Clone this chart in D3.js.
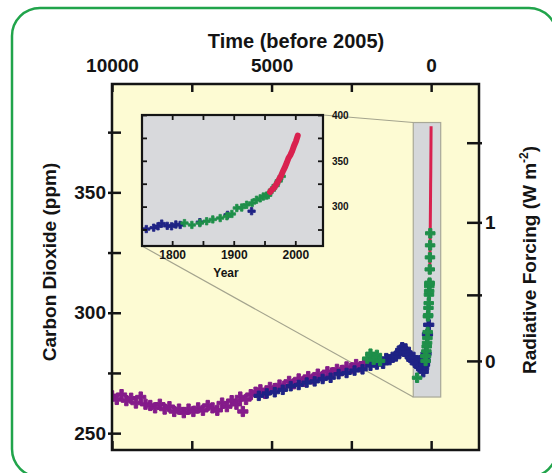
<!DOCTYPE html>
<html><head><meta charset="utf-8">
<script src="https://cdn.jsdelivr.net/npm/d3@7"></script>
<style>
html,body{margin:0;padding:0;background:#fff;}
svg{display:block;}
</style></head><body>
<svg id="chart" width="552" height="473"></svg>
<script>
// ---------------- DATA ----------------
// Antarctic ice core (purple), years before 2005
const domeAge = [10000,9850,9700,9550,9400,9250,9100,8950,8800,8650,8500,8350,8200,8050,7900,7750,7600,7450,7300,7150,7000,6850,6700,6550,6400,6250,6100,5980,5900,5800,5650,5500,5350,5200,5050,4900,4750,4600,4450,4300,4150,4000,3850,3700,3550,3400,3250,3100,2950,2800,2650,2500,2350,2200,2100];
const domeCO2 = [265.5,264,266,263.5,264.5,262.5,265,262,261.5,260.5,262,260,261,259,260,258.5,260,259,260.5,259.5,261.5,260.5,259.5,262.5,261,263.5,262,265,259,264,266,267,268,266.5,269,268.5,270,269.5,271.5,270.5,272.5,271.5,273.5,272.5,274.5,273.5,275.5,275,276.5,276,277.5,277,278.5,277.5,279];
// Holocene ice core (blue), years before 2005
const taylorAge = [5400,5150,4900,4650,4400,4150,3900,3650,3400,3150,2900,2650,2400,2150,1900,1700];
const taylorCO2 = [265.5,266.5,267,268,269.5,270,271,271.5,272.5,273,274.5,275,276,276.5,278,278.5];
// Law Dome style record (blue), calendar years
const lawYear = [400,500,600,700,800,900,1000,1050,1100,1150,1200,1250,1300,1350,1400,1450,1500,1550,1600,1650,1700,1758,1770,1777,1783,1792,1799,1806,1813,1845,1890,1929];
const lawCO2  = [280,279,281,280.5,281.5,282,283,284.5,285.5,284,285,283.5,282.5,281.5,280.5,281.5,280,279,278,277.5,278,275.5,277,278.5,281.5,279,278.5,280.5,280,283,291,295];
// Siple / firn record (green), calendar years
const sipleYear = [5,105,205,305,405,1565,1820,1832,1845,1856,1866,1878,1889,1897,1905,1913,1921,1930,1937,1943,1948,1953,1956,1962,1968,1973,1978];
const sipleCO2  = [281,283,280.5,282.5,280,273,282,280,282,284,286,287.5,289.5,292,298.5,299,302,304,307.5,309,311,312,312.5,318,323,328,333];
// Atmospheric measurements (red), calendar years
const maunaYear = [1959,1962,1965,1968,1971,1974,1977,1980,1983,1986,1989,1992,1995,1998,2001,2004];
const maunaCO2  = [316,318.4,320,323,326.3,330.2,333.8,338.7,342.8,347.6,353.1,356.3,360.8,366.5,371.1,377.5];

// axes / ticks
const timeDomain = [10000, -1500];
const timeTicks = [10000, 7500, 5000, 2500, 0];
const timeLabels = [10000, 5000, 0];
const co2Domain = [243, 395];
const co2Ticks = [250, 275, 300, 325, 350, 375];
const co2Labels = [250, 300, 350];
const forcingTicks = [0, 0.5, 1, 1.5];
const forcingLabels = [0, 1];
const forcingRef = 280;
const zoomAge = [560, -300];
const zoomCO2 = [265, 379];
const insetYearDomain = [1751, 2045];
const insetYearTicks = [1800, 1850, 1900, 1950, 2000];
const insetYearLabels = [1800, 1900, 2000];
const insetCO2Domain = [257, 400];
const insetCO2Ticks = [275, 300, 325, 350, 375, 400];
const insetCO2Labels = [300, 350, 400];

// ---------------- DRAW ----------------
const FONT = '"Liberation Sans", Arial, Helvetica, sans-serif';
const INK = "#141414";
const C_PURPLE = "#841b8a", C_BLUE = "#1f2385", C_GREEN = "#1f8f4a", C_RED = "#d9214f";
const svg = d3.select("#chart").attr("font-family", FONT).attr("font-weight", "bold");

svg.append("rect").attr("x", 12).attr("y", 8).attr("width", 545).attr("height", 469)
  .attr("rx", 28).attr("fill", "#fff").attr("stroke", "#21a44b").attr("stroke-width", 2.5);

const M = {l: 112, r: 479, t: 84, b: 450};
const x = d3.scaleLinear().domain(timeDomain).range([M.l, M.r]);
const y = d3.scaleLinear().domain(co2Domain).range([M.b, M.t]);
const toCO2 = f => forcingRef * Math.exp(f / 5.35);

const defs = svg.append("defs");
defs.append("clipPath").attr("id", "mclip").append("rect")
  .attr("x", M.l).attr("y", M.t).attr("width", M.r - M.l).attr("height", M.b - M.t);

svg.append("rect").attr("x", M.l).attr("y", M.t).attr("width", M.r - M.l).attr("height", M.b - M.t)
  .attr("fill", "#fdfbd3");

// zoom box
const bx0 = x(zoomAge[0]), bx1 = x(zoomAge[1]), by0 = y(zoomCO2[1]), by1 = y(zoomCO2[0]);
svg.append("rect").attr("x", bx0).attr("y", by0).attr("width", bx1 - bx0).attr("height", by1 - by0)
  .attr("fill", "#d5d7da").attr("stroke", "#a8a898").attr("stroke-width", 1.2);

// inset geometry
const I = {l: 142, r: 323, t: 115, b: 246};
const xi = d3.scaleLinear().domain(insetYearDomain).range([I.l, I.r]);
const yi = d3.scaleLinear().domain(insetCO2Domain).range([I.b, I.t]);

// connectors
svg.append("line").attr("x1", I.r).attr("y1", I.t).attr("x2", bx0).attr("y2", by0)
  .attr("stroke", "#a4a48e").attr("stroke-width", 1.2);
svg.append("line").attr("x1", I.l).attr("y1", I.b).attr("x2", bx0).attr("y2", by1)
  .attr("stroke", "#a4a48e").attr("stroke-width", 1.2);

const cross = s => d3.symbol().type(d3.symbolCross).size(s)();

const mg = svg.append("g").attr("clip-path", "url(#mclip)");
function marks(g, pts, sx, sy, color, size, sw) {
  g.append("g").selectAll("path").data(pts).join("path")
    .attr("transform", d => `translate(${sx(d[0])},${sy(d[1])})`)
    .attr("d", cross(size)).attr("fill", color)
    .attr("stroke", color).attr("stroke-width", sw).attr("stroke-linejoin", "round");
}
marks(mg, d3.zip(domeAge, domeCO2), x, y, C_PURPLE, 58, 1);
marks(mg, d3.zip(taylorAge, taylorCO2), x, y, C_BLUE, 50, 1);
marks(mg, d3.zip(lawYear.map(v => 2005 - v), lawCO2), x, y, C_BLUE, 58, 1);
mg.append("path").datum(d3.zip(maunaYear, maunaCO2))
  .attr("d", d3.line().x(d => x(2005 - d[0])).y(d => y(d[1])))
  .attr("fill", "none").attr("stroke", C_RED).attr("stroke-width", 3);
marks(mg, d3.zip(sipleYear.map(v => 2005 - v), sipleCO2), x, y, C_GREEN, 50, 1);

function styleAxis(g, size) {
  g.attr("font-family", FONT).attr("font-weight", "bold").attr("font-size", size);
  g.select(".domain").remove();
  g.selectAll("text").attr("fill", INK);
  return g;
}

// main axes
const gTop = svg.append("g").attr("transform", `translate(0,${M.t})`)
  .call(d3.axisTop(x).tickValues(timeTicks).tickSizeInner(-8).tickSizeOuter(0).tickPadding(12)
    .tickFormat(d => timeLabels.includes(d) ? String(d) : ""));
styleAxis(gTop, 19).selectAll("line").attr("stroke", INK).attr("stroke-width", 2.5);

const gBot = svg.append("g").attr("transform", `translate(0,${M.b})`)
  .call(d3.axisBottom(x).tickValues(timeTicks).tickSizeInner(-9).tickSizeOuter(0).tickFormat(() => ""));
styleAxis(gBot, 19).selectAll("line").attr("stroke", INK).attr("stroke-width", 2.5);

const gLeft = svg.append("g").attr("transform", `translate(${M.l},0)`)
  .call(d3.axisLeft(y).tickValues(co2Ticks).tickSizeInner(-9).tickSizeOuter(0).tickPadding(6)
    .tickFormat(d => co2Labels.includes(d) ? String(d) : ""));
styleAxis(gLeft, 19).selectAll("line").attr("x1", -4).attr("stroke", INK).attr("stroke-width", 2.5);

const forcingCO2 = forcingTicks.map(toCO2);
const gRight = svg.append("g").attr("transform", `translate(${M.r},0)`)
  .call(d3.axisRight(y).tickValues(forcingCO2).tickSizeInner(-12).tickSizeOuter(0).tickPadding(6)
    .tickFormat((c, i) => forcingLabels.includes(forcingTicks[i]) ? String(forcingTicks[i]) : ""));
styleAxis(gRight, 19).selectAll("line").attr("x1", 3).attr("stroke", INK).attr("stroke-width", 2.5);

svg.append("rect").attr("x", M.l).attr("y", M.t).attr("width", M.r - M.l).attr("height", M.b - M.t)
  .attr("fill", "none").attr("stroke", INK).attr("stroke-width", 2.5);

// titles
svg.append("text").attr("x", 296).attr("y", 48).attr("text-anchor", "middle")
  .attr("font-size", 20).attr("fill", INK).text("Time (before 2005)");
svg.append("text").attr("transform", "translate(56,262) rotate(-90)").attr("text-anchor", "middle")
  .attr("font-size", 19).attr("fill", INK).text("Carbon Dioxide (ppm)");
const rt = svg.append("text").attr("transform", "translate(536,260) rotate(-90)").attr("text-anchor", "middle")
  .attr("font-size", 19).attr("fill", INK);
rt.append("tspan").text("Radiative Forcing (W m");
rt.append("tspan").attr("font-size", 12).attr("dy", -8).text("-2");
rt.append("tspan").attr("dy", 8).text(")");

// ---------------- INSET ----------------
defs.append("clipPath").attr("id", "iclip").append("rect")
  .attr("x", I.l).attr("y", I.t).attr("width", I.r - I.l).attr("height", I.b - I.t);
svg.append("rect").attr("x", I.l).attr("y", I.t).attr("width", I.r - I.l).attr("height", I.b - I.t)
  .attr("fill", "#d8d9dc");
const ig = svg.append("g").attr("clip-path", "url(#iclip)");
const inDom = v => v >= insetYearDomain[0] && v <= insetYearDomain[1];
marks(ig, d3.zip(lawYear, lawCO2).filter(d => inDom(d[0])), xi, yi, C_BLUE, 30, 0.8);
marks(ig, d3.zip(sipleYear, sipleCO2).filter(d => inDom(d[0])), xi, yi, C_GREEN, 30, 0.8);
ig.append("path").datum(d3.zip(maunaYear, maunaCO2))
  .attr("d", d3.line().x(d => xi(d[0])).y(d => yi(d[1])))
  .attr("fill", "none").attr("stroke", C_RED).attr("stroke-width", 6).attr("stroke-linecap", "round");

const iTop = svg.append("g").attr("transform", `translate(0,${I.t})`)
  .call(d3.axisTop(xi).tickValues(insetYearTicks).tickSizeInner(-5).tickSizeOuter(0).tickFormat(() => ""));
styleAxis(iTop, 11).selectAll("line").attr("stroke", INK).attr("stroke-width", 1.8);
const iBot = svg.append("g").attr("transform", `translate(0,${I.b})`)
  .call(d3.axisBottom(xi).tickValues(insetYearTicks).tickSizeInner(-5).tickSizeOuter(0).tickPadding(4)
    .tickFormat(d => insetYearLabels.includes(d) ? String(d) : ""));
styleAxis(iBot, 12).selectAll("line").attr("stroke", INK).attr("stroke-width", 1.8);
const iLeft = svg.append("g").attr("transform", `translate(${I.l},0)`)
  .call(d3.axisLeft(yi).tickValues(insetCO2Ticks).tickSizeInner(-5).tickSizeOuter(0).tickFormat(() => ""));
styleAxis(iLeft, 10).selectAll("line").attr("stroke", INK).attr("stroke-width", 1.8);
const iRight = svg.append("g").attr("transform", `translate(${I.r},0)`)
  .call(d3.axisRight(yi).tickValues(insetCO2Ticks).tickSizeInner(-5).tickSizeOuter(0).tickPadding(9)
    .tickFormat(d => insetCO2Labels.includes(d) ? String(d) : ""));
styleAxis(iRight, 10).selectAll("line").attr("stroke", INK).attr("stroke-width", 1.8);

svg.append("rect").attr("x", I.l).attr("y", I.t).attr("width", I.r - I.l).attr("height", I.b - I.t)
  .attr("fill", "none").attr("stroke", INK).attr("stroke-width", 2.2);
svg.append("text").attr("x", 226).attr("y", 277).attr("text-anchor", "middle")
  .attr("font-size", 12).attr("fill", INK).text("Year");
</script>
</body></html>
